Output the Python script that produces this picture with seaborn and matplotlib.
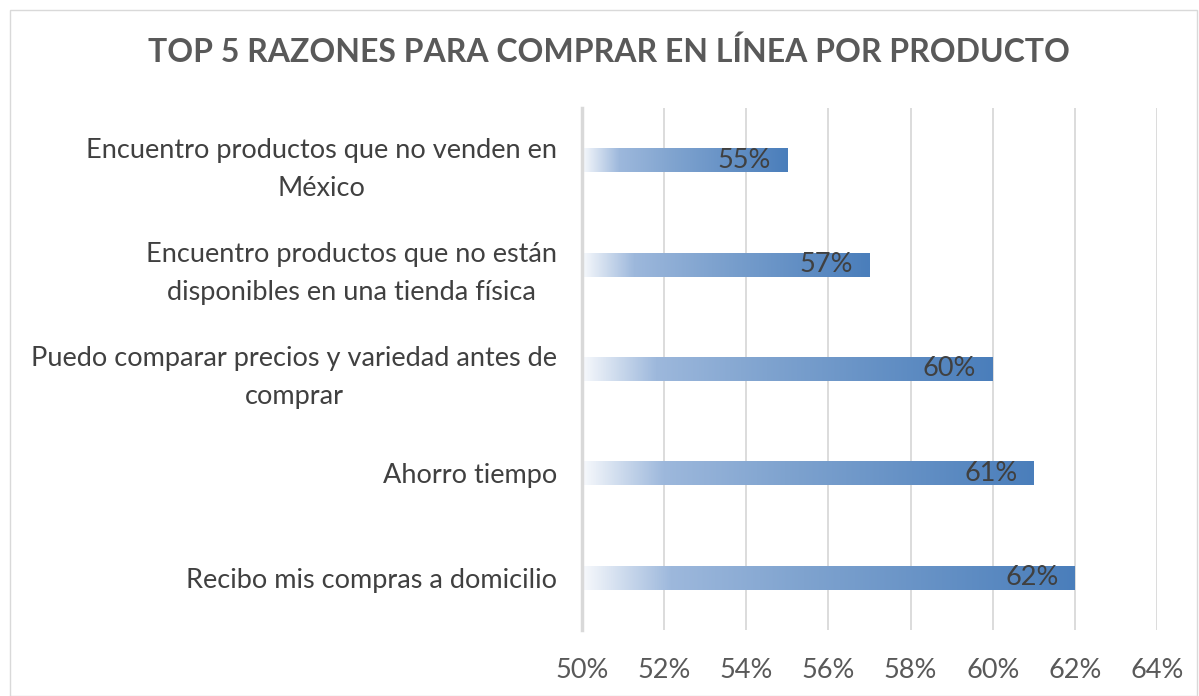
import numpy as np
import pandas as pd
import seaborn as sns
import matplotlib.pyplot as plt
from matplotlib.colors import LinearSegmentedColormap
from matplotlib.patches import Rectangle

razones = [
    "Encuentro productos que no venden en\nMéxico",
    "Encuentro productos que no están\ndisponibles en una tienda física",
    "Puedo comparar precios y variedad antes de\ncomprar",
    "Ahorro tiempo",
    "Recibo mis compras a domicilio",
]
porcentajes = [55, 57, 60, 61, 62]
ticks = [50, 52, 54, 56, 58, 60, 62, 64]

df = pd.DataFrame({"razon": razones, "pct": porcentajes})

sns.set_style("white")
plt.rcParams["font.family"] = ["Lato", "DejaVu Sans"]

fig = plt.figure(figsize=(11.99, 6.96), dpi=100)
ax = fig.add_axes([582 / 1199, 1 - 630 / 696, (1157 - 582) / 1199, (630 - 108) / 696])

sns.barplot(data=df, x="pct", y="razon", orient="h", width=0.23, ax=ax,
            color="#4a7ebb", edgecolor="none")

ax.set_xlim(50, 64)
ax.set_xticks(ticks)
ax.set_xticklabels([f"{t}%" for t in ticks], fontsize=19.5, color="#595959")
ax.set_xlabel("")
ax.set_ylabel("")
ax.tick_params(axis="y", labelsize=19.5, labelcolor="#404040", length=0, pad=18)
ax.tick_params(axis="x", length=0, pad=20)
for lab in ax.get_yticklabels():
    lab.set_multialignment("center")
    lab.set_linespacing(1.65)

ax.grid(axis="x", color="#d9d9d9", linewidth=1.3)
ax.set_axisbelow(True)
for s in ["top", "right", "bottom"]:
    ax.spines[s].set_visible(False)
ax.spines["left"].set_color("#d9d9d9")
ax.spines["left"].set_linewidth(2.5)

cmap = LinearSegmentedColormap.from_list(
    "grad", [(0, "#f7f9fc"), (0.18, "#9db8dc"), (0.45, "#7fa3cf"), (1, "#4a7ebb")])
grad = np.linspace(0, 1, 256).reshape(1, -1)
for patch, val in zip(ax.patches, porcentajes):
    y0 = patch.get_y()
    h = patch.get_height()
    patch.set_facecolor("none")
    im = ax.imshow(grad, cmap=cmap, aspect="auto",
                   extent=[50, val, y0 + h, y0], zorder=2)
    im.set_clip_path(Rectangle((50, y0), val - 50, h, transform=ax.transData))
    ax.text(val - 0.4, y0 + h / 2, f"{val}%", ha="right", va="center",
            fontsize=19.5, color="#404040", zorder=3)

ax.set_xlim(50, 64)
ax.set_ylim(4.5, -0.5)

fig.text(609 / 1199, 1 - 52 / 696, "TOP 5 RAZONES PARA COMPRAR EN LÍNEA POR PRODUCTO",
         ha="center", va="center", fontsize=23, fontweight="bold", color="#595959")
fig.patches.append(Rectangle((10 / 1199, 0), 1187 / 1199, 1 - 10 / 696,
                             transform=fig.transFigure, fill=False,
                             edgecolor="#d9d9d9", linewidth=1))

fig.savefig("out.png", dpi=100)
